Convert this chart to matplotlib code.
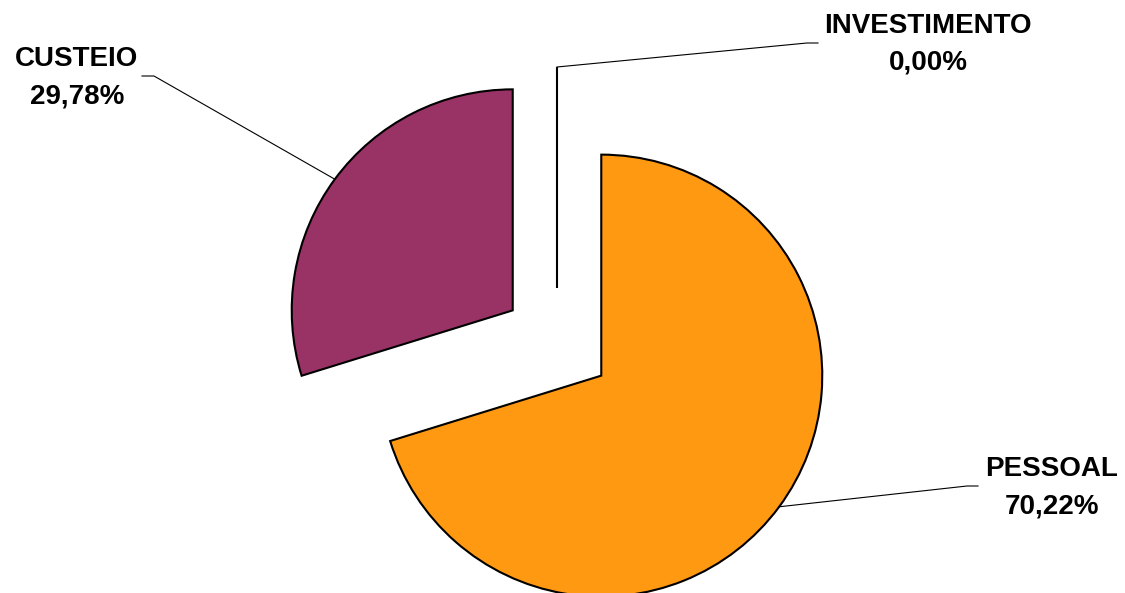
import matplotlib
matplotlib.use("Agg")
import matplotlib.pyplot as plt
import numpy as np

# chart data
categories = ["PESSOAL", "CUSTEIO", "INVESTIMENTO"]
percentages = [70.22, 29.78, 0.00]
colors = ["#FF9912", "#993366", "#FFFFFF"]

W, H = 1125, 593

fig = plt.figure(figsize=(W / 100, H / 100), dpi=100)
ax = fig.add_axes([0, 0, 1, 1])

center = (557, H - 343)
radius = 221
explode_dist = 55

wedges, _ = ax.pie(percentages, colors=colors, startangle=90, counterclock=False,
                   explode=[explode_dist] * len(percentages), radius=radius, center=center,
                   wedgeprops=dict(edgecolor="black", linewidth=1.5))

ax.set_xlim(0, W)
ax.set_ylim(0, H)
ax.set_aspect("equal")
ax.axis("off")

# label positions (pixels, y measured from top) and leader elbows
label_pos = {"PESSOAL": (1052, 476, 513), "CUSTEIO": (77, 66, 103), "INVESTIMENTO": (928, 33, 70)}
elbows = {"PESSOAL": [(978, 486), (967, 486)],
          "CUSTEIO": [(142, 76), (154, 76)],
          "INVESTIMENTO": [(818, 43), (807, 43)]}

for w, name, pct in zip(wedges, categories, percentages):
    mid = np.deg2rad((w.theta1 + w.theta2) / 2)
    cx, cy = w.center
    ax_pt = (cx + w.r * np.cos(mid), cy + w.r * np.sin(mid))
    pts = [(px, H - py) for px, py in elbows[name]] + [ax_pt]
    xs, ys = zip(*pts)
    ax.plot(xs, ys, color="black", linewidth=0.8)

    lx, b1, b2 = label_pos[name]
    txt = ("%.2f%%" % pct).replace(".", ",")
    ax.text(lx, H - b1, name, ha="center", va="baseline", fontsize=20,
            fontweight="bold", family="Liberation Sans")
    ax.text(lx, H - b2, txt, ha="center", va="baseline", fontsize=20,
            fontweight="bold", family="Liberation Sans")

fig.savefig("out.png", dpi=100)
